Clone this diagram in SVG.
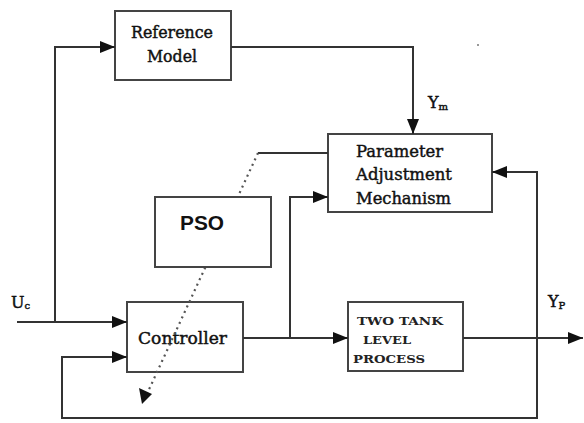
<svg xmlns="http://www.w3.org/2000/svg" width="584" height="423" viewBox="0 0 584 423">
<style>
.box{fill:#fff;stroke:#444;stroke-width:2}
.ln{fill:none;stroke:#333;stroke-width:2}
.dot{fill:none;stroke:#555;stroke-width:2.2;stroke-dasharray:2 4}
.t{font-family:"DejaVu Serif","Liberation Serif",serif;font-weight:normal;fill:#111;stroke:#111;stroke-width:0.45}
.b{font-family:"DejaVu Serif","Liberation Serif",serif;font-weight:bold;fill:#222}
.s{font-family:"Liberation Sans","DejaVu Sans",Arial,sans-serif;font-weight:bold;fill:#111}
</style>
<defs>
<marker id="ah" markerUnits="userSpaceOnUse" markerWidth="16" markerHeight="12" refX="15" refY="6" orient="auto">
<path d="M0,0 L15,6 L0,12 Z" fill="#111"/>
</marker>
</defs>
<rect x="0" y="0" width="584" height="423" fill="#fff"/>
<g id="reference-model">
<rect class="box" x="115" y="11" width="116" height="69"/>
<text class="t" x="172" y="38" font-size="17" text-anchor="middle" textLength="82" lengthAdjust="spacingAndGlyphs">Reference</text>
<text class="t" x="172" y="62" font-size="17" text-anchor="middle" textLength="50" lengthAdjust="spacingAndGlyphs">Model</text>
</g>
<g id="pam">
<rect class="box" x="328" y="134" width="164" height="78"/>
<text class="t" x="356" y="157" font-size="17" textLength="87" lengthAdjust="spacingAndGlyphs">Parameter</text>
<text class="t" x="356" y="180" font-size="17" textLength="96" lengthAdjust="spacingAndGlyphs">Adjustment</text>
<text class="t" x="356" y="204" font-size="17" textLength="95" lengthAdjust="spacingAndGlyphs">Mechanism</text>
</g>
<g id="controller">
<rect class="box" x="127" y="302" width="116" height="70"/>
<text class="t" x="138" y="344" font-size="17" textLength="89" lengthAdjust="spacingAndGlyphs">Controller</text>
</g>
<g id="process">
<rect class="box" x="348" y="302" width="115" height="69"/>
<text class="b" x="357" y="325" font-size="11" textLength="86" lengthAdjust="spacingAndGlyphs">TWO TANK</text>
<text class="b" x="363" y="344" font-size="11" textLength="48" lengthAdjust="spacingAndGlyphs">LEVEL</text>
<text class="b" x="353" y="363" font-size="11" textLength="72" lengthAdjust="spacingAndGlyphs">PROCESS</text>
</g>
<g id="connectors">
<path class="ln" d="M17,322 H127" marker-end="url(#ah)"/>
<path class="ln" d="M55,322 V47 H115" marker-end="url(#ah)"/>
<path class="ln" d="M231,47 H413 V134" marker-end="url(#ah)"/>
<path class="ln" d="M328,153 H258"/>
<path class="dot" d="M258,153 L146,396"/>
<path d="M139,388 L152,394 L142,404 Z" fill="#111"/>
<path class="ln" d="M243,338 H348" marker-end="url(#ah)"/>
<path class="ln" d="M290,338 V197 H328" marker-end="url(#ah)"/>
<path class="ln" d="M463,338 H583" marker-end="url(#ah)"/>
<path class="ln" d="M537,338 V418 H62 V357 H127" marker-end="url(#ah)"/>
<path class="ln" d="M537,338 V172 H492" marker-end="url(#ah)"/>
</g>
<g id="pso">
<rect class="box" x="155" y="197" width="116" height="70"/>
<text class="s" x="180" y="230" font-size="20" textLength="44" lengthAdjust="spacingAndGlyphs">PSO</text>
</g>
<g id="labels">
<text class="t" x="428" y="108" font-size="16">Y<tspan font-size="10" dy="2">m</tspan></text>
<text class="t" x="548" y="307" font-size="16">Y<tspan font-size="10" dy="2">P</tspan></text>
<text class="t" x="11" y="308" font-size="16">U<tspan font-size="10" dy="1">c</tspan></text>
</g>
<circle cx="478" cy="45" r="1" fill="#777"/>
</svg>
